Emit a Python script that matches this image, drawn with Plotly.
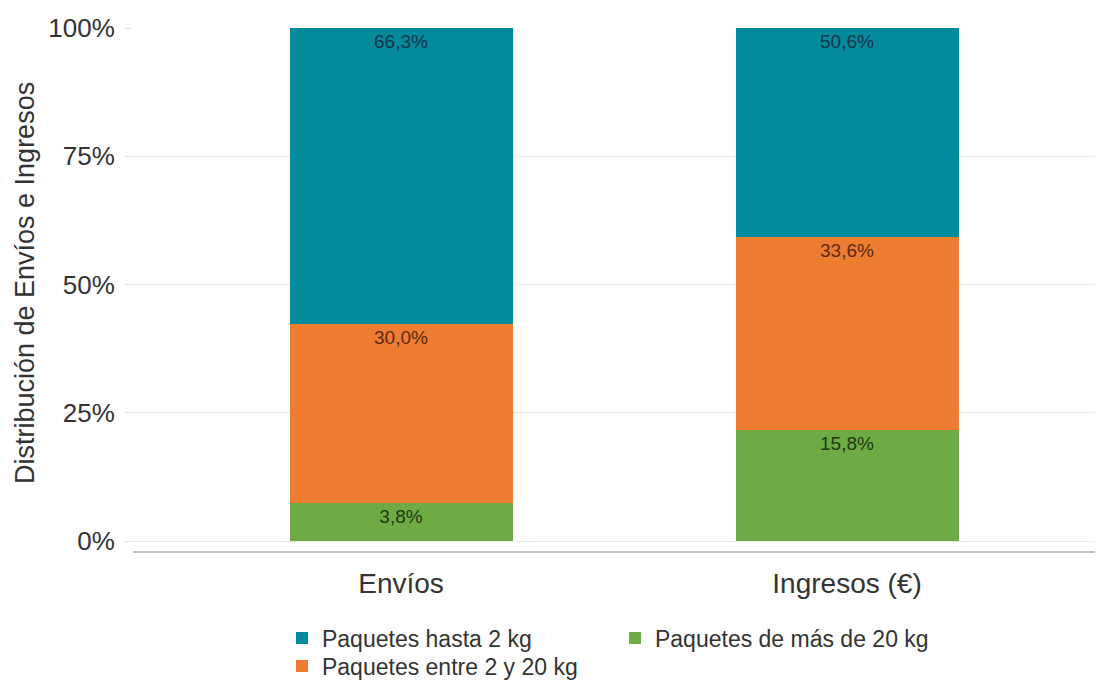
import plotly.graph_objects as go

categories = ["Envíos", "Ingresos (€)"]
series_names = ["Paquetes de más de 20 kg", "Paquetes entre 2 y 20 kg", "Paquetes hasta 2 kg"]
mas_20kg = [7.4, 21.6]
entre_2_20kg = [34.9, 37.7]
hasta_2kg = [57.7, 40.7]
labels_mas_20kg = ["3,8%", "15,8%"]
labels_entre_2_20kg = ["30,0%", "33,6%"]
labels_hasta_2kg = ["66,3%", "50,6%"]
y_ticks = [0, 25, 50, 75, 100]
y_tick_labels = ["0%", "25%", "50%", "75%", "100%"]
y_title = "Distribución de Envíos e Ingresos"

colors = ["#6fab45", "#ee7d31", "#038a9c"]
text_colors = ["#1d3a12", "#5b2a0c", "#10344a"]

values = [mas_20kg, entre_2_20kg, hasta_2kg]
texts = [labels_mas_20kg, labels_entre_2_20kg, labels_hasta_2kg]
legends = ["legend3", "legend4", "legend2"]

FONT = "Liberation Sans, Arial, Helvetica, sans-serif"

fig = go.Figure()
for name, vals, txt, col, tcol, lg in zip(series_names, values, texts, colors, text_colors, legends):
    fig.add_trace(go.Bar(
        x=categories, y=vals, name=name, text=txt,
        marker=dict(color=col, line=dict(width=0)),
        width=0.5,
        textposition="inside", insidetextanchor="end", textangle=0,
        textfont=dict(family=FONT, size=19, color=tcol),
        constraintext="none",
        legend=lg,
        hoverinfo="skip",
    ))

legend_common = dict(
    orientation="v",
    xref="container", yref="container",
    xanchor="left", yanchor="middle",
    font=dict(family=FONT, size=23, color="#333333"),
    itemwidth=30,
    bgcolor="rgba(0,0,0,0)",
)

fig.update_layout(
    barmode="stack",
    width=1103, height=684,
    margin=dict(l=125, r=8, t=20, b=141, autoexpand=False),
    plot_bgcolor="white", paper_bgcolor="white",
    font=dict(family=FONT, color="#333333"),
    showlegend=True,
    xaxis=dict(
        type="category",
        range=[-0.601, 1.574],
        showline=True, linecolor="#c2c2c2", linewidth=2,
        ticks="", ticklabelstandoff=6, tickangle=0,
        tickfont=dict(family=FONT, size=28, color="#333333"),
        showgrid=False, automargin=False,
    ),
    yaxis=dict(
        range=[-1.95, 100],
        tickvals=y_ticks, ticktext=y_tick_labels,
        tickfont=dict(family=FONT, size=26, color="#333333"),
        ticks="outside", ticklen=8, tickcolor="#e2e2e2",
        ticklabelstandoff=4,
        showgrid=True, gridcolor="#e9e9e9", gridwidth=1,
        zeroline=False, showline=False, automargin=False,
    ),
    legend2=dict(legend_common, x=0.2484, y=0.0789),
    legend3=dict(legend_common, x=0.5503, y=0.0789),
    legend4=dict(legend_common, x=0.2484, y=0.0380),
    annotations=[dict(
        text=y_title, textangle=-90,
        xref="paper", yref="paper",
        x=-0.1113, y=0.5124, xanchor="center", yanchor="middle",
        showarrow=False,
        font=dict(family=FONT, size=27, color="#333333"),
    )],
)

fig.write_html("out.html")
